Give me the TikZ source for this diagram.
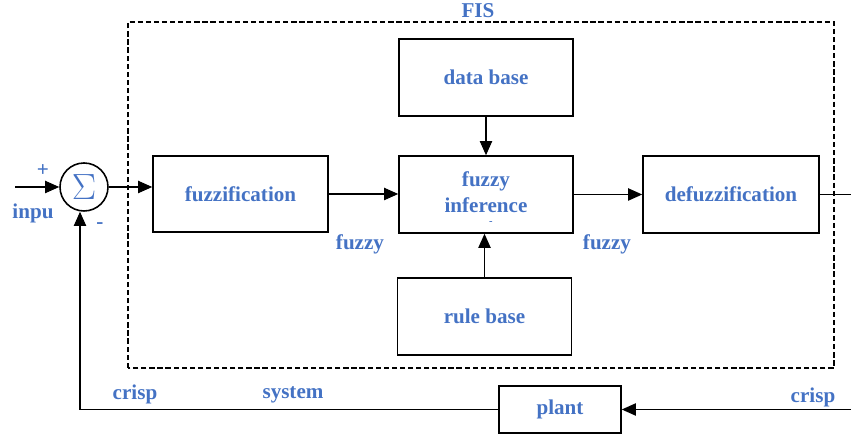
\documentclass[tikz,border=0pt]{standalone}
\usepackage{fontspec}
\setmainfont{Liberation Serif}
\usetikzlibrary{arrows.meta}
\definecolor{lblue}{RGB}{68,114,196}
\tikzset{
  blk/.style={draw,line width=0.9pt,minimum width=3.48cm,minimum height=1.54cm,align=center},
  lbl/.style={text=lblue,font=\fontsize{12}{13}\selectfont\bfseries},
  arr/.style={-{Triangle[length=8pt,width=7pt]},line width=0.6pt},
  ln/.style={line width=0.6pt}
}

\begin{document}
\begin{tikzpicture}
            \useasboundingbox (0,0) rectangle (17.02,8.72);
            % FIS boundary
            \draw[dash pattern=on 3pt off 1.6pt,line width=0.8pt] (2.56,1.36) rectangle (16.68,8.28);
            \node[lbl] (fis) at (9.56,8.5) {FIS};
            % blocks
            \node[blk,lbl] (db) at (9.72,7.17) {data base};
            \node[blk,lbl] (inf) at (9.72,4.83) {};
            \node[lbl] (inf1) at (9.72,5.1) {fuzzy};
            \node[lbl] (inf2) at (9.72,4.62) {inference};
            \node[blk,lbl] (rb) at (9.69,2.39) {rule base};
            \node[blk,lbl,minimum width=3.5cm,minimum height=1.52cm] (fz) at (4.81,4.84) {fuzzification};
            \node[blk,lbl,minimum width=3.52cm] (dfz) at (14.62,4.83) {defuzzification};
            \node[blk,lbl,minimum width=2.44cm,minimum height=0.94cm] (plant) at (11.2,0.53) {plant};
            \node[draw,circle,line width=0.9pt,minimum size=0.96cm,inner sep=0pt,text=lblue] (sum) at (1.68,4.98) {\fontsize{20}{20}\selectfont$\Sigma$};
            \node[text=lblue,font=\fontsize{6}{6}\selectfont\bfseries,inner sep=0pt] (dot) at (9.82,4.26) {-};
            % free ends
            \coordinate (in) at (0.3,4.98);
            \coordinate (out) at (17.02,4.86);
            \coordinate (back) at (17.02,0.53);
            \coordinate (corner) at (1.6,0.53);
            % connectors
            \draw[arr] (in) -- (sum.west);
            \draw[arr] (sum.east) -- (sum.east -| fz.west);
            \draw[arr] (fz.east) -- (fz.east -| inf.west);
            \draw[arr] (inf.east) -- (inf.east -| dfz.west);
            \draw[arr] (db.south) -- (inf.north);
            \draw[arr] (rb.north) -- (rb.north |- inf.south);
            \draw[ln] (dfz.east) -- (dfz.east -| out);
            \draw[arr] (back) -- (plant.east);
            \draw[arr] (plant.west) -- (corner) -- (sum.south -| corner);
            % labels
            \node[lbl] (plus) at (0.86,5.3) {+};
            \node[lbl] (inpu) at (0.66,4.46) {inpu};
            \node[lbl] (minus) at (2.0,4.2) {-};
            \node[lbl] (f1) at (7.2,3.84) {fuzzy};
            \node[lbl] (f2) at (12.14,3.84) {fuzzy};
            \node[lbl] (c1) at (2.7,0.84) {crisp};
            \node[lbl] (sys) at (5.86,0.82) {system};
            \node[lbl] (c2) at (16.26,0.78) {crisp};
        \end{tikzpicture}
\end{document}
